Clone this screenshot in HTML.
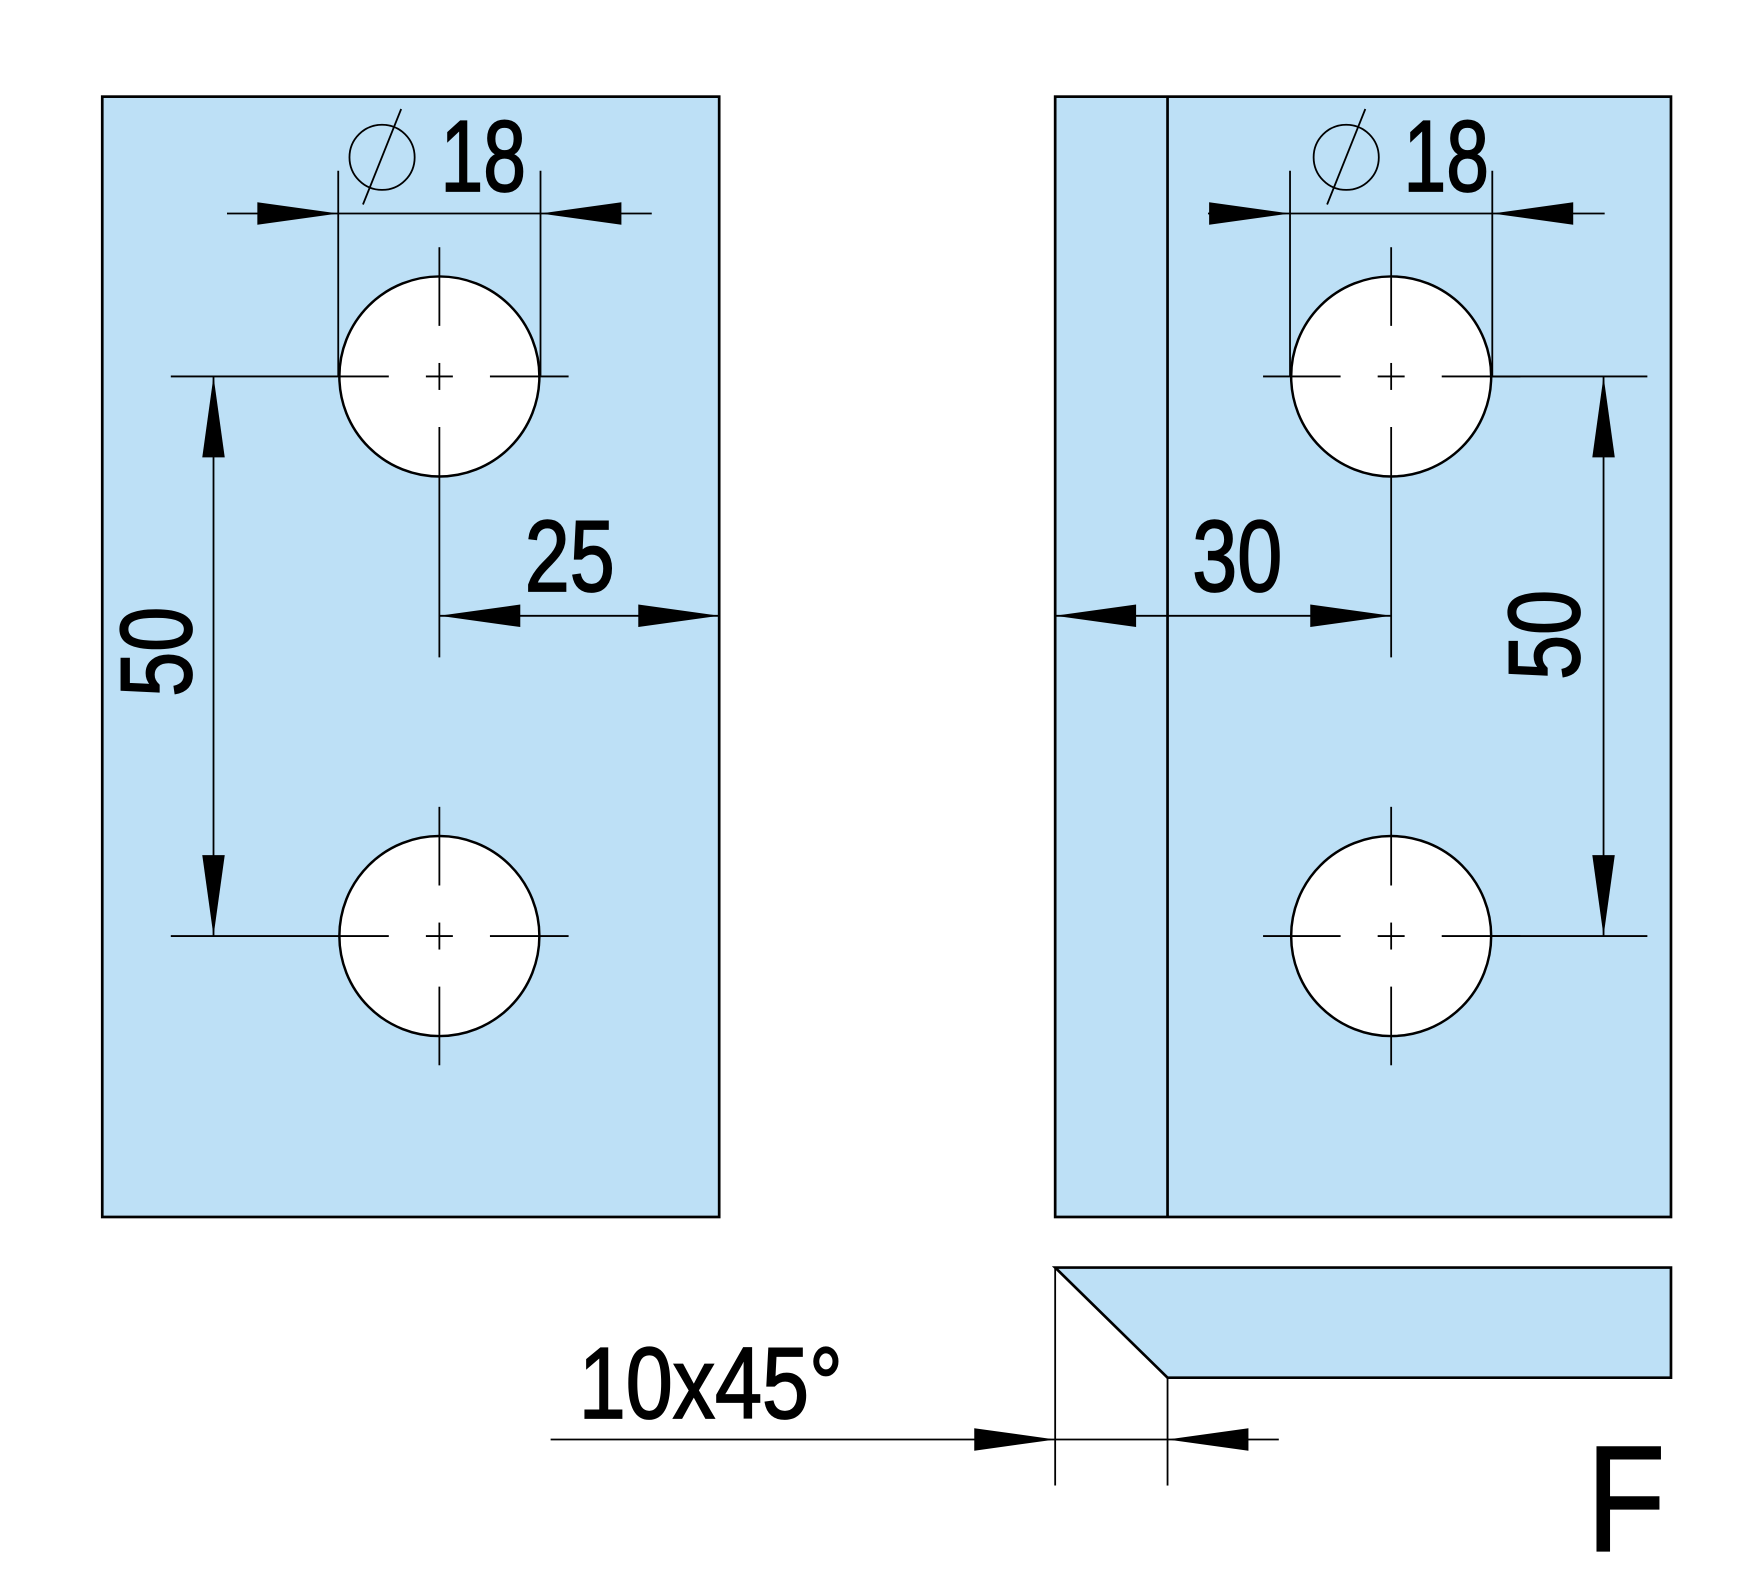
<!DOCTYPE html>
<html><head><meta charset="utf-8"><style>
html,body{margin:0;padding:0;background:#fff;width:1753px;height:1575px;overflow:hidden}
svg{display:block}
text{font-family:"Liberation Sans",sans-serif;fill:#000;stroke:#000;stroke-width:1.6}
</style></head><body>
<svg width="1753" height="1575" viewBox="0 0 1560 1401.6" preserveAspectRatio="none" xmlns="http://www.w3.org/2000/svg">
<defs>
<g id="hole">
 <circle cx="0" cy="0" r="89" fill="#fff" stroke="#000" stroke-width="2.2"/>
 <g stroke="#000" stroke-width="1.6">
  <line x1="-89" y1="0" x2="-45" y2="0"/><line x1="-12" y1="0" x2="12" y2="0"/><line x1="45" y1="0" x2="89" y2="0"/><line x1="89" y1="0" x2="115" y2="0"/>
  <line x1="0" y1="-89" x2="0" y2="-45"/><line x1="0" y1="-12" x2="0" y2="12"/><line x1="0" y1="45" x2="0" y2="89"/>
 </g>
</g>
<path id="arR" d="M0,0 L-72,-10 L-72,10 Z" fill="#000"/>
<path id="arL" d="M0,0 L72,-10 L72,10 Z" fill="#000"/>
<path id="arU" d="M0,0 L-10,72 L10,72 Z" fill="#000"/>
<path id="arD" d="M0,0 L-10,-72 L10,-72 Z" fill="#000"/>
</defs>

<rect x="91" y="86" width="549" height="997" fill="#bde0f6" stroke="#000" stroke-width="2.4"/>
<use href="#hole" x="391" y="335"/>
<use href="#hole" x="391" y="833"/>
<g stroke="#000" stroke-width="1.6" fill="none">
 <line x1="152" y1="335" x2="302" y2="335"/>
 <line x1="152" y1="833" x2="302" y2="833"/>
 <line x1="391" y1="220" x2="391" y2="246"/>
 <line x1="391" y1="424" x2="391" y2="585"/>
 <line x1="391" y1="718" x2="391" y2="744"/>
 <line x1="391" y1="922" x2="391" y2="948"/>
 <line x1="301" y1="152" x2="301" y2="335"/>
 <line x1="481" y1="152" x2="481" y2="335"/>
 <line x1="202" y1="190" x2="580" y2="190"/>
 <line x1="190" y1="335" x2="190" y2="833"/>
 <line x1="391" y1="548" x2="640" y2="548"/>
</g>
<use href="#arR" x="301" y="190"/><use href="#arL" x="481" y="190"/>
<use href="#arU" x="190" y="335"/><use href="#arD" x="190" y="833"/>
<use href="#arL" x="391" y="548"/><use href="#arR" x="640" y="548"/>
<circle cx="340" cy="140" r="29" fill="none" stroke="#000" stroke-width="1.6"/>
<line x1="323" y1="182" x2="357" y2="97" stroke="#000" stroke-width="1.6"/>
<text x="392" y="170" font-size="90" textLength="76" lengthAdjust="spacingAndGlyphs">18</text>
<text x="467" y="526" font-size="90" textLength="80" lengthAdjust="spacingAndGlyphs">25</text>
<text transform="translate(170,620) rotate(-90)" font-size="90" textLength="80" lengthAdjust="spacingAndGlyphs">50</text>

<rect x="939" y="86" width="548" height="997" fill="#bde0f6" stroke="#000" stroke-width="2.4"/>
<line x1="1039" y1="86" x2="1039" y2="1083" stroke="#000" stroke-width="2.4"/>
<use href="#hole" x="1238" y="335"/>
<use href="#hole" x="1238" y="833"/>
<g stroke="#000" stroke-width="1.6" fill="none">
 <line x1="1124" y1="335" x2="1149" y2="335"/>
 <line x1="1124" y1="833" x2="1149" y2="833"/>
 <line x1="1327" y1="335" x2="1466" y2="335"/>
 <line x1="1327" y1="833" x2="1466" y2="833"/>
 <line x1="1238" y1="220" x2="1238" y2="246"/>
 <line x1="1238" y1="424" x2="1238" y2="585"/>
 <line x1="1238" y1="718" x2="1238" y2="744"/>
 <line x1="1238" y1="922" x2="1238" y2="948"/>
 <line x1="1148" y1="152" x2="1148" y2="335"/>
 <line x1="1328" y1="152" x2="1328" y2="335"/>
 <line x1="1075" y1="190" x2="1428" y2="190"/>
 <line x1="1427" y1="335" x2="1427" y2="833"/>
 <line x1="939" y1="548" x2="1238" y2="548"/>
</g>
<use href="#arR" x="1148" y="190"/><use href="#arL" x="1328" y="190"/>
<use href="#arU" x="1427" y="335"/><use href="#arD" x="1427" y="833"/>
<use href="#arL" x="939" y="548"/><use href="#arR" x="1238" y="548"/>
<circle cx="1198" cy="140" r="29" fill="none" stroke="#000" stroke-width="1.6"/>
<line x1="1181" y1="182" x2="1215" y2="97" stroke="#000" stroke-width="1.6"/>
<text x="1249" y="170" font-size="90" textLength="76" lengthAdjust="spacingAndGlyphs">18</text>
<text x="1061" y="526" font-size="90" textLength="80" lengthAdjust="spacingAndGlyphs">30</text>
<text transform="translate(1405,605) rotate(-90)" font-size="90" textLength="80" lengthAdjust="spacingAndGlyphs">50</text>

<polygon points="939,1128 1487,1128 1487,1226 1039,1226" fill="#bde0f6" stroke="#000" stroke-width="2.4"/>
<g stroke="#000" stroke-width="1.6">
 <line x1="939" y1="1128" x2="939" y2="1322"/>
 <line x1="1039" y1="1226" x2="1039" y2="1322"/>
 <line x1="490" y1="1281" x2="1138" y2="1281"/>
</g>
<use href="#arR" x="939" y="1281"/><use href="#arL" x="1039" y="1281"/>
<text x="515" y="1262" font-size="90" textLength="235" lengthAdjust="spacingAndGlyphs">10x45°</text>
<text x="1412" y="1380" font-size="134" textLength="70" lengthAdjust="spacingAndGlyphs">F</text>
</svg>
</body></html>
